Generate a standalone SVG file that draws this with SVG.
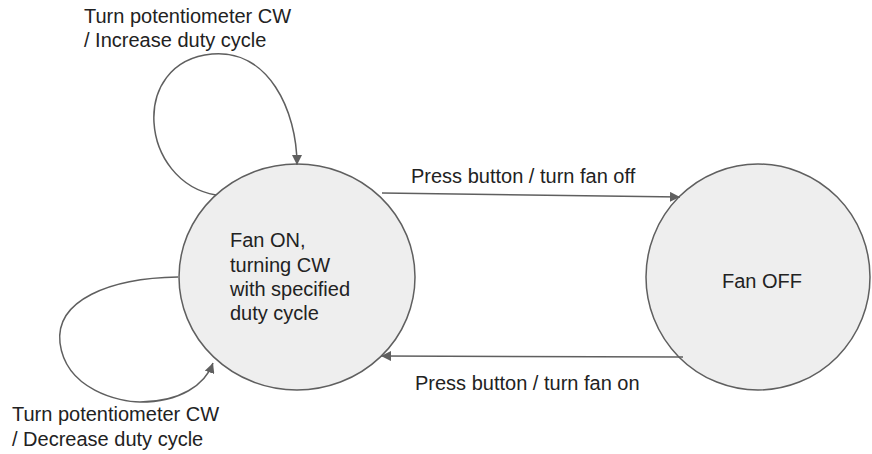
<svg xmlns="http://www.w3.org/2000/svg" width="872" height="454" viewBox="0 0 872 454">
  <style>
    .state { fill: #eeeeee; stroke: #5f5f5f; stroke-width: 1.5; }
    .edge { fill: none; stroke: #5f5f5f; stroke-width: 1.5; }
    text { font-family: "Liberation Sans", Arial, sans-serif; font-size: 20px; fill: #222222; }
  </style>
  <defs>
    <marker id="arrow" viewBox="0 0 10 10" refX="10" refY="5" markerWidth="10" markerHeight="10" markerUnits="userSpaceOnUse" orient="auto">
      <path d="M0,0 L10,5 L0,10 z" fill="#5f5f5f"/>
    </marker>
  </defs>

  <g id="state-on">
    <ellipse class="state" cx="297" cy="277" rx="118" ry="113"/>
    <text x="230" y="247">Fan ON,</text>
    <text x="230" y="272">turning CW</text>
    <text x="230" y="296">with specified</text>
    <text x="230" y="320">duty cycle</text>
  </g>

  <g id="state-off">
    <ellipse class="state" cx="758" cy="277" rx="112" ry="113"/>
    <text x="722" y="288">Fan OFF</text>
  </g>

  <g id="connectors">
    <!-- self loop: increase duty cycle -->
    <path class="edge" d="M216,195 C140,182 128,62 212,54 C268,49 297,110 297,165" marker-end="url(#arrow)"/>
    <!-- self loop: decrease duty cycle -->
    <path class="edge" d="M178,277 C110,278 55,300 60,343 C66,390 120,402 140,402 C180,402 205,385 213,363" marker-end="url(#arrow)"/>
    <!-- ON to OFF -->
    <path class="edge" d="M382,193 L680,197" marker-end="url(#arrow)"/>
    <!-- OFF to ON -->
    <path class="edge" d="M683,357 L381,356" marker-end="url(#arrow)"/>
  </g>

  <g id="labels">
    <text x="84" y="23">Turn potentiometer CW</text>
    <text x="84" y="47">/ Increase duty cycle</text>
    <text x="411" y="183">Press button / turn fan off</text>
    <text x="415" y="390">Press button / turn fan on</text>
    <text x="12" y="421">Turn potentiometer CW</text>
    <text x="12" y="446">/ Decrease duty cycle</text>
  </g>
</svg>
